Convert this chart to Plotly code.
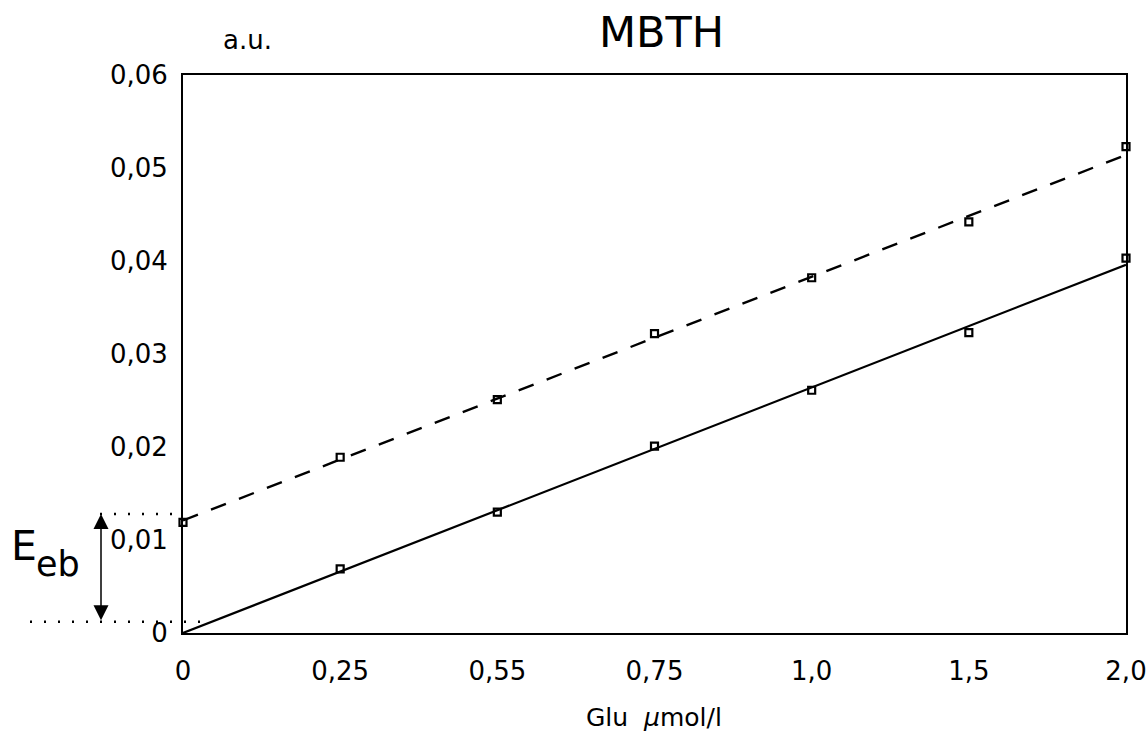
import plotly.graph_objects as go

# ---- data ----
x_labels = ["0", "0,25", "0,55", "0,75", "1,0", "1,5", "2,0"]
x_pos = list(range(len(x_labels)))
upper_vals = [0.0119, 0.0189, 0.0251, 0.0322, 0.0382, 0.0442, 0.0523]
lower_vals = [None, 0.0069, 0.0130, 0.0201, 0.0261, 0.0323, 0.0403]
fit_x = [0, 6]
upper_fit = [0.0121, 0.0514]
lower_fit = [0.0, 0.0396]
y_ticks = [0, 0.01, 0.02, 0.03, 0.04, 0.05, 0.06]
y_ticklabels = ["0", "0,01", "0,02", "0,03", "0,04", "0,05", "0,06"]
eeb_top = 0.0128
eeb_bottom = 0.0012

FONT = "DejaVu Sans"
W, H = 1146, 731
L, T = 183, 75
R = W - 1126
B = H - 633
pw = W - L - R
ph = H - T - B


def px_x(px):
    return (px - L) / pw


def px_y(py):
    return (H - B - py) / ph


fig = go.Figure()

fig.add_trace(go.Scatter(x=fit_x, y=upper_fit, mode="lines",
                         line=dict(color="black", width=2.4, dash="16px,14px"),
                         hoverinfo="skip", showlegend=False))
fig.add_trace(go.Scatter(x=fit_x, y=lower_fit, mode="lines",
                         line=dict(color="black", width=2.2),
                         hoverinfo="skip", showlegend=False))
fig.add_trace(go.Scatter(x=x_pos, y=upper_vals, mode="markers",
                         marker=dict(symbol="square-open", size=7, color="black",
                                     line=dict(width=2.2, color="black")),
                         showlegend=False, cliponaxis=False))
fig.add_trace(go.Scatter(x=x_pos, y=lower_vals, mode="markers",
                         marker=dict(symbol="square-open", size=7, color="black",
                                     line=dict(width=2.2, color="black")),
                         showlegend=False, cliponaxis=False))

# dotted guide lines for E_eb
fig.add_shape(type="line", xref="paper", yref="y",
              x0=px_x(100), x1=0, y0=eeb_top, y1=eeb_top,
              line=dict(color="black", width=2.5, dash="2px,12px"))
fig.add_shape(type="line", xref="paper", yref="y",
              x0=px_x(30), x1=px_x(200), y0=eeb_bottom, y1=eeb_bottom,
              line=dict(color="black", width=2.5, dash="2px,12px"))

annotations = [
    # double arrow
    dict(xref="paper", yref="y", x=px_x(101), y=eeb_top,
         axref="pixel", ayref="pixel", ax=0, ay=(eeb_top - eeb_bottom) / 0.06 * ph,
         showarrow=True, arrowside="end+start", arrowhead=2, arrowsize=2,
         arrowwidth=1.5, arrowcolor="black", text=""),
    dict(xref="paper", yref="paper", x=px_x(9), y=px_y(546), xanchor="left",
         yanchor="middle", text="E", showarrow=False,
         font=dict(family=FONT, size=41, color="black")),
    dict(xref="paper", yref="paper", x=px_x(34), y=px_y(564), xanchor="left",
         yanchor="middle", text="eb", showarrow=False,
         font=dict(family=FONT, size=35, color="black")),
    dict(xref="paper", yref="paper", x=px_x(661), y=px_y(32), xanchor="center",
         yanchor="middle", text="MBTH", showarrow=False,
         font=dict(family=FONT, size=43, color="black")),
    dict(xref="paper", yref="paper", x=px_x(247), y=px_y(40), xanchor="center",
         yanchor="middle", text="a.u.", showarrow=False,
         font=dict(family=FONT, size=26, color="black")),
    dict(xref="paper", yref="paper", x=px_x(654), y=px_y(717), xanchor="center",
         yanchor="middle", text="Glu  <i>μ</i>mol/l", showarrow=False,
         font=dict(family=FONT, size=25, color="black")),
]

fig.update_layout(
    width=W, height=H,
    margin=dict(l=L, r=R, t=T, b=B, autoexpand=False),
    paper_bgcolor="white", plot_bgcolor="white",
    font=dict(family=FONT, size=26, color="black"),
    annotations=annotations,
    showlegend=False,
)
fig.update_xaxes(range=[0, 6], tickvals=x_pos, ticktext=x_labels,
                 showgrid=False, zeroline=False, showline=True, mirror=True,
                 linecolor="black", linewidth=2, ticks="", ticklabelstandoff=14,
                 ticklabeloverflow="allow", automargin=False,
                 tickfont=dict(family=FONT, size=26, color="black"))
fig.update_yaxes(range=[0, 0.06], tickvals=y_ticks, ticktext=y_ticklabels,
                 showgrid=False, zeroline=False, showline=True, mirror=True,
                 linecolor="black", linewidth=2, ticks="", ticklabelstandoff=8,
                 ticklabeloverflow="allow", automargin=False,
                 tickfont=dict(family=FONT, size=26, color="black"))

fig.write_html(
    "out.html",
    config={"displayModeBar": False},
    post_script="document.body.style.margin='0';document.body.style.overflow='hidden';",
)
